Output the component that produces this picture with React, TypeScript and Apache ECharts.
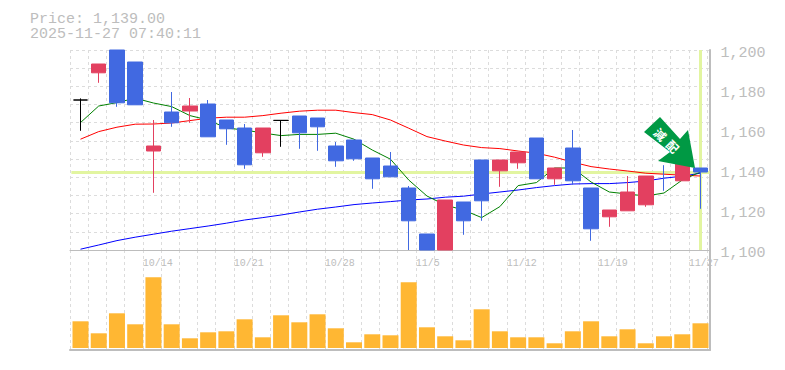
import React, { useEffect, useRef } from "react";
import * as echarts from "echarts";

const titleLines = ["Price: 1,139.00", "2025-11-27 07:40:11"];
const dates = ["10/7","10/8","10/9","10/10","10/14","10/15","10/16","10/17","10/20","10/21","10/22","10/23","10/24","10/27","10/28","10/29","10/30","10/31","11/4","11/5","11/6","11/7","11/10","11/11","11/12","11/13","11/14","11/17","11/18","11/19","11/20","11/21","11/25","11/26","11/27"];
// [open, close, low, high]; red = close above open, blue = close below open
const candles: (number[] | string)[] = [
  [1175,1175,1159.6,1175.8],
  [1188.6,1193,1183.6,1193],
  [1200,1173.6,1171.6,1200],
  [1194,1172.6,1172.6,1194],
  [1149.5,1152,1128.6,1165],
  [1169,1163.6,1161.6,1179],
  [1169.5,1172,1163.6,1176],
  [1173,1156.6,1156.6,1175],
  [1165,1160.6,1152.6,1165],
  [1161,1142.6,1140.6,1163],
  [1148.6,1161,1146.6,1161],
  [1164.8,1164.8,1151.6,1165],
  [1167,1158.6,1150.6,1167],
  [1166,1161.6,1149.6,1166],
  [1152,1144.6,1141.6,1154],
  [1155,1145.6,1144.6,1155],
  [1146,1135.6,1130.6,1146],
  [1142,1136.6,1136.6,1149],
  [1131,1114.6,1100,1132],
  [1108,1100,1100,1108],
  [1100,1125,1100,1125],
  [1124,1114.6,1107.6,1124],
  [1145,1124.6,1114.6,1145],
  [1139.6,1145,1131.6,1145],
  [1143.6,1149,1140.6,1149],
  [1156,1135.6,1135.6,1156],
  [1135.6,1141,1132.6,1141],
  [1151,1134.6,1132.6,1160],
  [1131,1110.6,1104.6,1131],
  [1116.6,1120,1111.6,1120],
  [1119.6,1129,1119.6,1137],
  [1122.6,1137,1121.6,1137],
  "-",
  [1134.6,1143,1134.6,1143],
  [1141,1139,1120.6,1141],
];
// the 11/25 session shows only a wick
const wickOnly: (number[] | string)[] = dates.map((_, i) => (i === 32 ? [1142.3,1142.3,1129.6,1142.4] : "-"));
const ma5 = [1163.7,1172,1173.7,1175.9,1173.5,1171.7,1167.2,1165,1161,1160,1158.5,1157.2,1157.8,1157.8,1158.4,1155.4,1150,1145.4,1135,1127,1122.5,1120,1116.2,1121.7,1132.2,1133.7,1141,1141,1134,1129,1128,1127,1128.5,1135,1139];
const ma25 = [1155.4,1159.2,1161.4,1162.9,1163,1163.5,1164.7,1165.9,1166.4,1166.4,1167.2,1168.4,1169.4,1169.9,1169.9,1168.7,1167.7,1165,1160.9,1156.7,1154.5,1152.5,1151.2,1150.7,1149.5,1148.4,1146.4,1143.9,1141.7,1140.5,1139.5,1138.4,1137.9,1137.4,1137];
const ma75 = [1100.4,1102.5,1104.7,1106.4,1107.9,1109.4,1110.7,1112,1113.4,1115,1116.2,1117.5,1119,1120.4,1121.5,1122.7,1123.5,1124.2,1125,1125.5,1126.4,1126.9,1128,1129,1130,1131.2,1132.2,1133,1133.2,1133.2,1133.7,1134.5,1135.9,1136.9,1138.4];
const volume = [26.7,14.7,34.7,23.7,70.7,23.7,9.7,15.7,16.7,28.7,10.7,32.7,25.7,33.7,19.7,5.7,13.7,12.7,65.7,20.7,11.7,7.7,38.7,16.7,10.7,10.7,4.7,16.7,26.7,11.7,18.7,4.7,11.7,13.7,24.7];
const guidePrice = 1138.75;
const lastDate = "11/27";
const arrowShape = [[660,117],[644,132],[670,152],[658,161],[695,168],[688,130],[680,139]];
const arrowChars = ["減", "配"];

const MONO = "'Liberation Mono'";
const GRAY = "#BDBDBD";
const GRID = "#DCDCDC";
const BLUE = "#4169E1";
const RED = "#E34060";
const SLOT = 18.2;
const CANDLE_SLOT = 18.235;
const PLOT_W = 640;

export default function App() {
  const ref = useRef<HTMLDivElement>(null);
  useEffect(() => {
    const chart = echarts.init(ref.current!, undefined, { renderer: "svg" });
    const split = { show: true, lineStyle: { color: GRID, type: [3, 3], width: 1 } };
    const bgX = (gridIndex: number, labels: boolean, lineWidth: number) => ({
      type: "value", gridIndex, min: 0, max: PLOT_W / SLOT, interval: 1, silent: true,
      axisLine: { show: true, onZero: false, lineStyle: { color: GRAY, width: lineWidth } },
      axisTick: { show: false },
      splitLine: split,
      axisLabel: labels
        ? { show: true, showMaxLabel: false, hideOverlap: false, color: GRAY, fontFamily: MONO, fontSize: 10, align: "left", margin: 8,
            formatter: (v: number) => (v % 5 === 4 && dates[v] ? dates[v] : "") }
        : { show: false },
    });
    const border = { show: true, onZero: false, lineStyle: { color: GRAY, width: 2 } };
    const option: any = {
      animation: false,
      title: {
        text: titleLines.join("\n"), left: 30, top: 12, padding: 0,
        textStyle: { color: GRAY, fontFamily: MONO, fontSize: 15, fontWeight: "normal", lineHeight: 15 },
      },
      grid: [
        { left: 70, top: 50, width: PLOT_W, height: 200 },
        { left: 70, top: 250, width: PLOT_W, height: 100 },
        { left: 71.38, top: 50, width: CANDLE_SLOT * 35, height: 200 },
        { left: 71.38, top: 250, width: CANDLE_SLOT * 35, height: 98 },
      ],
      xAxis: [
        bgX(0, true, 1),
        bgX(1, false, 2),
        { type: "category", gridIndex: 2, data: dates, axisLine: { show: false }, axisTick: { show: false }, axisLabel: { show: false }, splitLine: { show: false } },
        { type: "category", gridIndex: 3, data: dates, axisLine: { show: false }, axisTick: { show: false }, axisLabel: { show: false }, splitLine: { show: false } },
      ],
      yAxis: [
        { type: "value", gridIndex: 0, position: "right", min: 0, max: 11, interval: 1, axisLine: border, axisTick: { show: false }, axisLabel: { show: false }, splitLine: split },
        { type: "value", gridIndex: 1, position: "right", min: 0, max: 1, axisLine: border, axisTick: { show: false }, axisLabel: { show: false }, splitLine: { show: false } },
        {
          type: "value", gridIndex: 2, position: "right", min: 1100, max: 1200, interval: 20, scale: true,
          axisLine: { show: false }, axisTick: { show: false }, splitLine: { show: false },
          axisLabel: { color: GRAY, fontFamily: MONO, fontSize: 15, margin: 11, verticalAlign: "top", lineHeight: 7 },
        },
        { type: "value", gridIndex: 3, min: 0, max: 98, axisLine: { show: false }, axisTick: { show: false }, axisLabel: { show: false }, splitLine: { show: false } },
      ],
      series: [
        {
          type: "line", name: "guide", xAxisIndex: 2, yAxisIndex: 2, data: [], z: 1, silent: true,
          markLine: {
            silent: true, symbol: "none", label: { show: false }, z: 1,
            lineStyle: { color: "#E2F5A0", width: 3, type: "solid" },
            data: [{ yAxis: guidePrice }, { xAxis: lastDate }],
          },
        },
        ...[[ma75, "#0000FF"], [ma25, "#FF0000"], [ma5, "#008000"]].map(([d, c]) => ({
          type: "line", xAxisIndex: 2, yAxisIndex: 2, data: d, z: 2, symbol: "none", silent: true, clip: true,
          lineStyle: { color: c, width: 1 },
        })),
        {
          type: "candlestick", name: "price", xAxisIndex: 2, yAxisIndex: 2, data: candles, barWidth: 15, z: 3, clip: true,
          itemStyle: { color: RED, color0: BLUE, borderColor: RED, borderColor0: BLUE, borderColorDoji: "#000000", borderWidth: 1 },
        },
        {
          type: "candlestick", name: "wick", xAxisIndex: 2, yAxisIndex: 2, data: wickOnly, barWidth: 1, z: 3, clip: true,
          itemStyle: { color: BLUE, color0: BLUE, borderColor: BLUE, borderColor0: BLUE, borderColorDoji: BLUE, borderWidth: 1 },
        },
        {
          type: "bar", name: "volume", xAxisIndex: 3, yAxisIndex: 3, data: volume, barWidth: 16, z: 3,
          itemStyle: { color: "#FFB733" },
        },
      ],
      graphic: [
        { type: "polygon", z: 100, shape: { points: arrowShape }, style: { fill: "#009944" } },
        ...arrowChars.map((ch, i) => ({
          type: "text", z: 101, x: 660.7 + i * 12.3, y: 134 + i * 12, rotation: -Math.PI / 4,
          style: { text: ch, fill: "#fff", font: "bold 12px 'Noto Sans CJK JP'", align: "center", verticalAlign: "middle" },
        })),
      ],
    };
    chart.setOption(option);
    return () => chart.dispose();
  }, []);
  return <div ref={ref} style={{ width: 785, height: 370, position: "absolute", left: 0, top: 0 }} />;
}
